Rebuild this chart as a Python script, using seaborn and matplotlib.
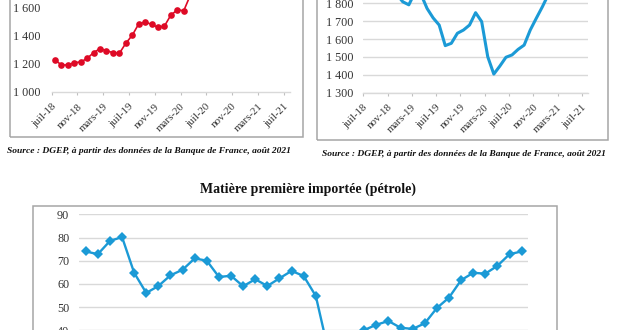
import numpy as np
import pandas as pd
import matplotlib
matplotlib.use("Agg")
import matplotlib.pyplot as plt
import matplotlib.transforms as mtransforms
from matplotlib.patches import Rectangle
from matplotlib.ticker import FuncFormatter
import seaborn as sns

# ---------------- data ----------------
month_labels = ["juil-18", "nov-18", "mars-19", "juil-19", "nov-19", "mars-20",
                "juil-20", "nov-20", "mars-21", "juil-21"]

# top-left chart (red, markers) - monthly values from juil-18
left_values = [1230, 1193, 1193, 1210, 1214, 1240, 1281, 1310, 1295, 1281,
               1276, 1348, 1405, 1486, 1500, 1483, 1462, 1471, 1550, 1586,
               1581, 1690, 1760, 1800, 1830, 1850, 1880, 1900, 1920, 1950,
               1960, 1980, 2000, 2010, 2030, 2050, 2060]
left_ticks = [1000, 1200, 1400, 1600]

# top-right chart (blue line) - monthly values from juil-18
right_values = [1900, 1960, 1990, 1930, 1880, 1850, 1808, 1791, 1860, 1850,
                1771, 1718, 1678, 1563, 1576, 1632, 1650, 1678, 1747, 1697,
                1501, 1404, 1449, 1498, 1511, 1542, 1566, 1650, 1716, 1780,
                1850, 1900, 1940, 1980, 2000, 2030, 2050]
right_ticks = [1300, 1400, 1500, 1600, 1700, 1800]

# bottom chart: imported raw material (oil), monthly from juil-18 to juil-21
oil_values = [74.0, 72.8, 78.5, 80.2, 64.8, 56.1, 59.1, 63.7, 66.1, 71.0,
              70.0, 63.0, 63.5, 59.0, 62.0, 59.1, 62.4, 65.6, 63.4, 54.8,
              32.0, 25.5, 32.5, 40.1, 42.4, 44.0, 41.1, 40.6, 43.0, 49.6,
              54.1, 61.6, 64.8, 64.4, 67.8, 72.8, 74.0]
oil_ticks = [40, 50, 60, 70, 80, 90]

oil_title = "Matière première importée (pétrole)"
source_text = "Source : DGEP, à partir des données de la Banque de France, août 2021"

# ---------------- style ----------------
sns.set_theme(style="white")
plt.rcParams["font.family"] = ["Liberation Serif", "DejaVu Serif"]

RED = "#DE0A26"
BLUE = "#1B9AD6"
GRID = "#D9D9D9"
FRAME = "#A6A6A6"
TXT = "#333333"

W, H = 620, 330
fig = plt.figure(figsize=(W / 100, H / 100), dpi=100)
fig.patch.set_facecolor("white")


def add_ax(l, t, r, b):
    return fig.add_axes([l / W, 1 - b / H, (r - l) / W, (b - t) / H])


def frame(l, t, r, b):
    fig.patches.append(Rectangle((l / W, 1 - b / H), (r - l) / W, (b - t) / H,
                                 transform=fig.transFigure, fill=False,
                                 edgecolor=FRAME, lw=1.1))


def space_fmt(v, pos):
    return f"{int(round(v)):,}".replace(",", " ")


def style_date_axis(ax, ypad):
    for s in ["top", "left", "right"]:
        ax.spines[s].set_visible(False)
    ax.spines["bottom"].set_color(GRID)
    ax.spines["bottom"].set_linewidth(1.0)
    ax.set_xlim(0, 37)
    ticks = np.arange(0, 37, 4)
    ax.set_xticks(ticks, month_labels, rotation=45, ha="right", va="center",
                  rotation_mode="anchor")
    ax.tick_params(axis="x", direction="out", length=2.5, width=0.8,
                   color="#BFBFBF", pad=6.8, labelsize=7.8, labelcolor=TXT,
                   bottom=True)
    ax.tick_params(axis="y", length=0, pad=ypad, labelsize=8.7, labelcolor=TXT)
    ax.yaxis.set_major_formatter(FuncFormatter(space_fmt))
    off = mtransforms.ScaledTranslation(3 / 100, 0, fig.dpi_scale_trans)
    for lab in ax.get_xticklabels():
        lab.set_transform(lab.get_transform() + off)
    ax.set_xlabel("")
    ax.set_ylabel("")
    ax.set_facecolor("none")


# ---------------- top-left chart ----------------
frame(10, -100, 302.5, 137)
ax1 = add_ax(51.7, -76, 290.1, 92)
df1 = pd.DataFrame({"m": np.arange(len(left_values)) + 0.5, "v": left_values})
sns.lineplot(data=df1, x="m", y="v", ax=ax1, color=RED, lw=1.2, marker="o",
             markersize=4.8, markeredgewidth=0)
ax1.set_ylim(1000, 2200)
ax1.set_yticks(left_ticks)
style_date_axis(ax1, 8.4)

# ---------------- top-right chart ----------------
frame(317, -100, 608, 139.5)
ax2 = add_ax(363.3, -50.5, 587.9, 92.7)
df2 = pd.DataFrame({"m": np.arange(len(right_values)) + 0.5, "v": right_values})
sns.lineplot(data=df2, x="m", y="v", ax=ax2, color=BLUE, lw=2.2)
ax2.set_ylim(1300, 2100)
ax2.set_yticks(right_ticks)
ax2.grid(axis="y", color=GRID, lw=1.0)
ax2.grid(axis="x", visible=False)
style_date_axis(ax2, 7.2)

# ---------------- bottom chart ----------------
fig.text(308 / W, 1 - 189 / H, oil_title, ha="center", va="center",
         fontsize=10, fontweight="bold", color="#111111")
frame(32.7, 206, 556.7, 420)
ax3 = add_ax(79.3, 214.3, 527.7, 423.1)
df3 = pd.DataFrame({"m": np.arange(len(oil_values)), "v": oil_values})
sns.lineplot(data=df3, x="m", y="v", ax=ax3, color=BLUE, lw=1.7, marker="D",
             markersize=4.6, markeredgewidth=0)
ax3.set_xlim(-0.53, 36.5)
ax3.set_ylim(0, 90)
ax3.set_yticks(oil_ticks)
ax3.grid(axis="y", color=GRID, lw=1.0)
ax3.grid(axis="x", visible=False)
for s in ax3.spines.values():
    s.set_visible(False)
ax3.set_xticks([])
ax3.tick_params(axis="y", length=0, pad=7.2, labelsize=8.7, labelcolor=TXT)
ax3.yaxis.set_major_formatter(FuncFormatter(lambda v, p: f"{int(v)}"))
ax3.set_xlabel("")
ax3.set_ylabel("")
ax3.set_facecolor("none")

# ---------------- sources ----------------
fig.text(149 / W, 1 - 151 / H, source_text, ha="center", va="center",
         fontsize=6.8, fontweight="bold", fontstyle="italic", color="#111111")
fig.text(464 / W, 1 - 154 / H, source_text, ha="center", va="center",
         fontsize=6.8, fontweight="bold", fontstyle="italic", color="#111111")

fig.savefig("out.png", dpi=100, facecolor="white")
